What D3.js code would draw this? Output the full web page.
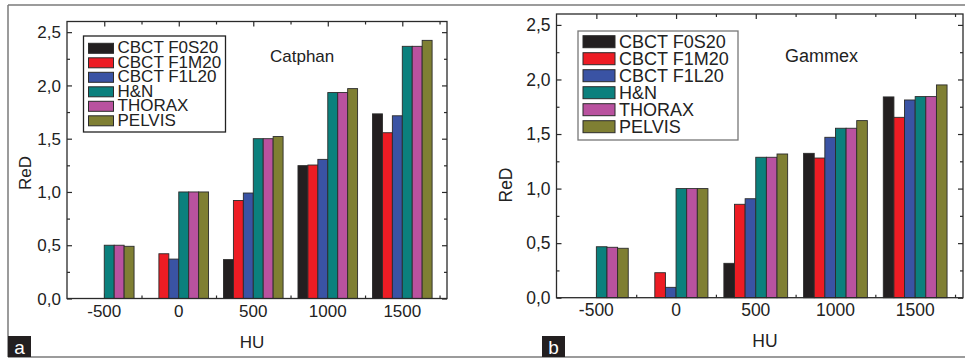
<!DOCTYPE html>
<html>
<head>
<meta charset="utf-8">
<script src="https://cdn.jsdelivr.net/npm/d3@7"></script>
<style>
  body { margin: 0; background: #fff; }
  svg { display: block; font-family: "Liberation Sans", Arial, sans-serif; }
</style>
</head>
<body>
<div id="graph"></div>
<script>
// Datos
const hu = [-500, 0, 500, 1000, 1500];
const seriesNames = ["CBCT F0S20", "CBCT F1M20", "CBCT F1L20", "H&N", "THORAX", "PELVIS"];
const seriesColors = ["#231f20", "#ed1c24", "#3a53a4", "#0b807d", "#b9529f", "#7f7f33"];
const yTicks = [0, 0.5, 1.0, 1.5, 2.0, 2.5];

// Catphan (a)
const catF0S20 = [null, null, 0.365, 1.247, 1.733];
const catF1M20 = [null, 0.42, 0.92, 1.253, 1.556];
const catF1L20 = [null, 0.37, 0.99, 1.306, 1.715];
const catHN    = [0.50, 1.0, 1.50, 1.933, 2.367];
const catTHO   = [0.50, 1.0, 1.50, 1.933, 2.367];
const catPEL   = [0.49, 1.0, 1.52, 1.97, 2.423];

// Gammex (b)
const gamF0S20 = [null, null, 0.315, 1.323, 1.84];
const gamF1M20 = [null, 0.229, 0.856, 1.28, 1.653];
const gamF1L20 = [null, 0.095, 0.907, 1.47, 1.812];
const gamHN    = [0.467, 1.0, 1.287, 1.553, 1.843];
const gamTHO   = [0.462, 1.0, 1.287, 1.553, 1.843];
const gamPEL   = [0.453, 1.0, 1.317, 1.623, 1.95];

const width = 965, height = 360;
const svg = d3.select("#graph").append("svg")
    .attr("width", width)
    .attr("height", height);

// marco gris de la figura
const frame = "#7a7a7a";
svg.append("line").attr("x1", 8).attr("x2", width).attr("y1", 5).attr("y2", 5)
    .attr("stroke", frame).attr("stroke-width", 1.5);
svg.append("line").attr("x1", 8).attr("x2", width).attr("y1", 357).attr("y2", 357)
    .attr("stroke", frame).attr("stroke-width", 1.5);
svg.append("line").attr("x1", 8).attr("x2", 8).attr("y1", 5).attr("y2", 357)
    .attr("stroke", frame).attr("stroke-width", 1.5);

const fmt = d => d.toFixed(1).replace(".", ",");

function drawPanel(cfg, values) {
    const g = svg.append("g");
    const x = d3.scaleLinear().domain([-750, 1800]).range([cfg.left, cfg.right]);
    const y = d3.scaleLinear().domain([0, 2.6]).range([cfg.bottom, cfg.top]);
    const inner = d3.scaleBand().domain(seriesNames).range([-200, 200]);

    const axisCol = "#2a2a2a";
    // ejes con ticks hacia dentro
    const minorX = [-250, 250, 750, 1250, 1750];
    const minorY = [0.25, 0.75, 1.25, 1.75, 2.25];
    g.append("g").attr("transform", `translate(0,${cfg.bottom})`)
        .call(d3.axisTop(x).tickValues(hu).tickSize(5).tickFormat(""));
    g.append("g").attr("transform", `translate(0,${cfg.bottom})`)
        .call(d3.axisTop(x).tickValues(minorX).tickSize(3).tickFormat(""));
    g.append("g").attr("transform", `translate(0,${cfg.top})`)
        .call(d3.axisBottom(x).tickValues(hu).tickSize(5).tickFormat(""));
    g.append("g").attr("transform", `translate(0,${cfg.top})`)
        .call(d3.axisBottom(x).tickValues(minorX).tickSize(3).tickFormat(""));
    g.append("g").attr("transform", `translate(${cfg.left},0)`)
        .call(d3.axisRight(y).tickValues(yTicks).tickSize(5).tickFormat(""));
    g.append("g").attr("transform", `translate(${cfg.left},0)`)
        .call(d3.axisRight(y).tickValues(minorY).tickSize(3).tickFormat(""));
    g.append("g").attr("transform", `translate(${cfg.right},0)`)
        .call(d3.axisLeft(y).tickValues(yTicks).tickSize(5).tickFormat(""));
    g.append("g").attr("transform", `translate(${cfg.right},0)`)
        .call(d3.axisLeft(y).tickValues(minorY).tickSize(3).tickFormat(""));
    g.selectAll(".domain").remove();
    g.selectAll(".tick line").attr("stroke", axisCol).attr("stroke-width", 1.2);

    // barras
    seriesNames.forEach((s, i) => {
        g.append("g").selectAll("rect")
            .data(hu.map((h, j) => ({ h, v: values[i][j] })).filter(d => d.v != null))
            .enter().append("rect")
            .attr("x", d => x(d.h + inner(s)))
            .attr("width", d => x(d.h + inner(s) + inner.bandwidth()) - x(d.h + inner(s)))
            .attr("y", d => y(d.v))
            .attr("height", d => y(0) - y(d.v))
            .attr("fill", seriesColors[i])
            .attr("stroke", "#2b2b2b")
            .attr("stroke-width", 0.9);
    });

    // caja del área de trazado
    g.append("rect")
        .attr("x", cfg.left).attr("y", cfg.top)
        .attr("width", cfg.right - cfg.left).attr("height", cfg.bottom - cfg.top)
        .attr("fill", "none").attr("stroke", axisCol).attr("stroke-width", 1.3);

    // etiquetas de ticks
    g.selectAll(".ylab").data(yTicks).enter().append("text")
        .attr("x", cfg.left - 6).attr("y", d => y(d)).attr("dy", "0.36em")
        .attr("text-anchor", "end").attr("font-size", cfg.fs).attr("fill", "#222")
        .text(fmt);
    g.selectAll(".xlab").data(hu).enter().append("text")
        .attr("x", d => x(d)).attr("y", cfg.xLabY)
        .attr("text-anchor", "middle").attr("font-size", cfg.fs).attr("fill", "#222")
        .text(d => d);

    // títulos de ejes
    g.append("text").attr("x", cfg.huX).attr("y", cfg.huY)
        .attr("text-anchor", "middle").attr("font-size", cfg.fs).attr("fill", "#222")
        .text("HU");
    g.append("text")
        .attr("transform", `translate(${cfg.redX},${cfg.redY}) rotate(-90)`)
        .attr("dy", "0.36em")
        .attr("text-anchor", "middle").attr("font-size", cfg.fs).attr("fill", "#222")
        .text("ReD");

    // nombre del maniquí
    g.append("text").attr("x", cfg.nameX).attr("y", cfg.nameY)
        .attr("font-size", cfg.lfs).attr("fill", "#222").text(cfg.name);

    // leyenda
    const L = cfg.legend;
    g.append("rect").attr("x", L.x).attr("y", L.y).attr("width", L.w).attr("height", L.h)
        .attr("fill", "#fff").attr("stroke", L.stroke).attr("stroke-width", 1.3);
    const rows = g.selectAll(".leg").data(seriesNames).enter().append("g")
        .attr("transform", (d, i) => `translate(${L.x + 5},${L.row0 + i * L.step})`);
    rows.append("rect")
        .attr("x", 0).attr("y", -L.sh / 2).attr("width", L.sw).attr("height", L.sh)
        .attr("fill", (d, i) => seriesColors[i]).attr("stroke", "#2b2b2b").attr("stroke-width", 1);
    rows.append("text")
        .attr("x", L.sw + 4).attr("y", L.base)
        .attr("font-size", cfg.lfs).attr("fill", "#222").text(d => d);

    // letra del panel
    svg.append("rect").attr("x", cfg.tagX).attr("y", 336).attr("width", 23).attr("height", 21)
        .attr("fill", "#231f20");
    svg.append("text").attr("x", cfg.tagX + 11.5).attr("y", 353.5)
        .attr("text-anchor", "middle").attr("font-size", 19).attr("fill", "#fff").text(cfg.tag);
}

drawPanel({
    left: 67, right: 447, top: 21.5, bottom: 298.5,
    fs: 17, lfs: 17, xLabY: 317,
    huX: 252, huY: 348, redX: 25, redY: 173,
    name: "Catphan", nameX: 270, nameY: 62,
    legend: { x: 83.5, y: 36, w: 142, h: 96, row0: 48.3, step: 14.5, sw: 25, sh: 10, base: 5, stroke: "#222" },
    tag: "a", tagX: 8
}, [catF0S20, catF1M20, catF1L20, catHN, catTHO, catPEL]);

drawPanel({
    left: 556.5, right: 963, top: 14, bottom: 297.7,
    fs: 17.5, lfs: 18, xLabY: 316,
    huX: 765, huY: 346.7, redX: 506, redY: 185,
    name: "Gammex", nameX: 785, nameY: 62.3,
    legend: { x: 578, y: 31, w: 160, h: 109, row0: 41.7, step: 17, sw: 32, sh: 12, base: 6, stroke: "#777" },
    tag: "b", tagX: 542
}, [gamF0S20, gamF1M20, gamF1L20, gamHN, gamTHO, gamPEL]);
</script>
</body>
</html>
